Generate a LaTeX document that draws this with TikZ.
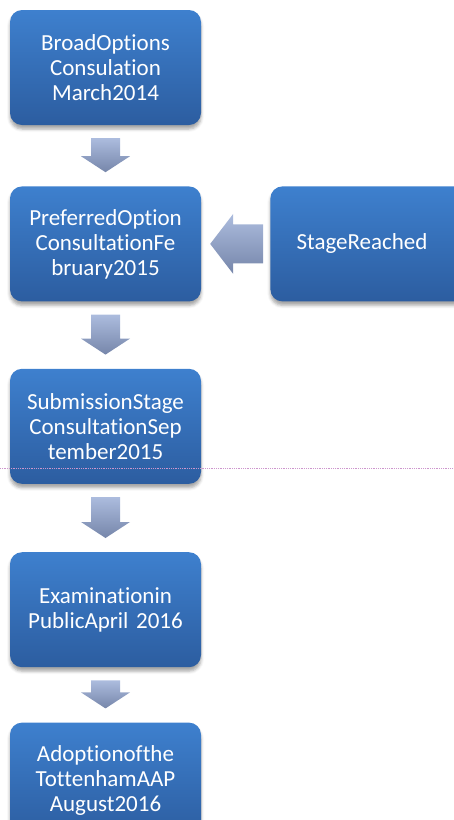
\documentclass[tikz,border=0pt]{standalone}
\usepackage{fontspec}
\setmainfont[Ligatures=NoCommon]{Carlito}
\usepackage{tikz}
\usetikzlibrary{
  arrows.meta,
  positioning,
  calc,
  shadows.blur
}
\definecolor{stageTop}{RGB}{62,128,206}
\definecolor{stageBottom}{RGB}{44,93,160}
\definecolor{flowTop}{RGB}{172,188,222}
\definecolor{flowBottom}{RGB}{118,134,170}
\definecolor{guideViolet}{RGB}{205,150,205}

\tikzset{
  stagebox/.style={rounded corners=12pt, top color=stageTop, bottom color=stageBottom,
    minimum width=191pt, minimum height=115pt, text width=180pt, align=center,
    text=white, inner sep=0pt, font=\fontsize{23}{25}\selectfont,
    blur shadow={shadow xshift=0pt, shadow yshift=-4pt, shadow blur radius=3pt, shadow opacity=35}},
  flowarrow/.style={top color=flowTop, bottom color=flowBottom, draw=none}
}

\begin{document}
\begin{tikzpicture}[x=1pt, y=-1pt]
\useasboundingbox (0,0) rectangle (454,820);
\clip (0,0) rectangle (454,820);

% Stages
\node[stagebox] (b1) at (105.5,67.5) {BroadOptions\\Consulation\\March2014};
\node[stagebox, below=61pt of b1] (b2) {PreferredOption\\ConsultationFe\\bruary2015};
\node[stagebox, below=67pt of b2] (b3) {SubmissionStage\\ConsultationSep\\tember2015};
\node[stagebox, below=68pt of b3] (b4) {Examinationin\\PublicApril 2016};
\node[stagebox, below=55pt of b4] (b5) {Adoptionofthe\\TottenhamAAP\\August2016};
\node[stagebox, right=69pt of b2, minimum width=200pt, text width=184pt] (reached) {};
\node[text=white, font=\fontsize{23}{25}\selectfont] (reachedtxt) at (362,243) {StageReached};

% Down arrows between stages
\foreach \a/\b in {b1/b2,b2/b3,b3/b4,b4/b5}
  \shade[flowarrow] ($(\a.south)+(-14.5,13)$) -- ($(\a.south)+(14.5,13)$)
    -- ($(\b.north)+(14.5,-30)$) -- ($(\b.north)+(24.5,-30)$)
    -- ($(\b.north)+(0,-14)$) -- ($(\b.north)+(-24.5,-30)$)
    -- ($(\b.north)+(-14.5,-30)$) -- cycle;

% Arrow from stage reached
\shade[flowarrow] ($(reached.west)+(-7,-19.5)$) -- ($(reached.west)+(-7,19.5)$)
  -- ($(b2.east)+(32,19.5)$) -- ($(b2.east)+(32,30)$)
  -- ($(b2.east)+(9,0)$) -- ($(b2.east)+(32,-30)$)
  -- ($(b2.east)+(32,-19.5)$) -- cycle;

% Guide line
\draw[guideViolet, densely dotted, line width=0.8pt] (0,468) coordinate (gl) -- (454,468) coordinate (gr);

\end{tikzpicture}
\end{document}
